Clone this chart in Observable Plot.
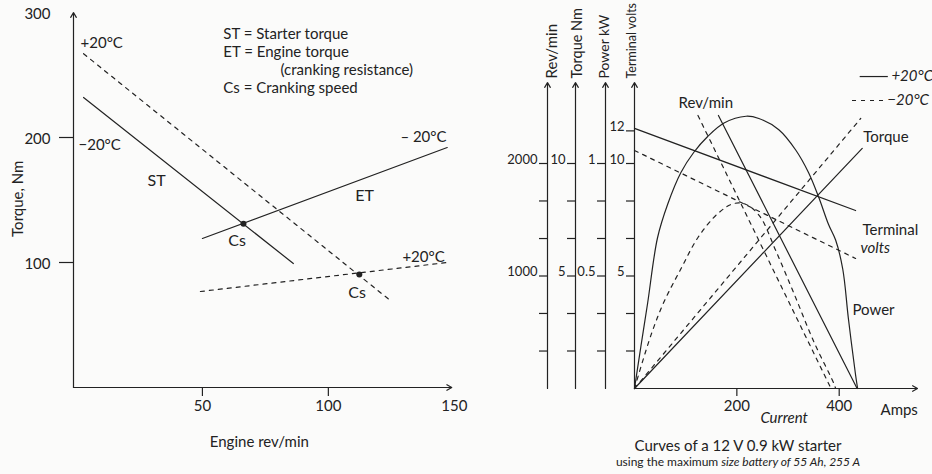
<!DOCTYPE html>
<html>
<head>
<meta charset="utf-8">
<script src="https://cdn.jsdelivr.net/npm/d3@7"></script>
<script src="https://cdn.jsdelivr.net/npm/@observablehq/plot@0.6"></script>
<style>
  html, body { margin: 0; padding: 0; background: #fbfbfa; }
  #wrap { position: relative; width: 932px; height: 474px; overflow: hidden; font-family: Lato, "Open Sans", sans-serif; color: #222; }
  #left { position: absolute; left: 0; top: 0; }
  #right { position: absolute; left: 470px; top: 0; }
  #cap { position: absolute; left: 588px; width: 300px; top: 437px; text-align: center; }
  #cap .l1 { font-size: 15px; line-height: 17px; }
  #cap .l2 { font-size: 12px; line-height: 15px; }
  svg { overflow: visible; }
</style>
</head>
<body>
<div id="wrap">
  <div id="left"></div>
  <div id="right"></div>
  <div id="cap"><div class="l1">Curves of a 12 V 0.9 kW starter</div><div class="l2">using the maximum <i>size battery of 55 Ah, 255 A</i></div></div>
</div>
<script>
// ================= LEFT CHART DATA (engine rev/min, torque Nm) =================
const starterTorqueCold = [{rev: 2.8, nm: 232}, {rev: 86.1, nm: 99.2}];     // ST at -20°C
const engineTorqueCold  = [{rev: 50.0, nm: 119.2}, {rev: 147.2, nm: 192}];  // ET at -20°C
const starterTorqueWarm = [{rev: 2.8, nm: 267}, {rev: 124.6, nm: 69.6}];    // ST at +20°C
const engineTorqueWarm  = [{rev: 49.2, nm: 76.8}, {rev: 147.2, nm: 100}];   // ET at +20°C
const crankingSpeed     = [{rev: 66.3, nm: 131}, {rev: 112.3, nm: 90.4}];   // Cs points
const leftYTicks  = [100, 200];
const leftYLabels = [100, 200, 300];
const leftXTicks  = [50, 100];
const leftXLabels = [50, 100, 150];

// ================= RIGHT CHART DATA (current in amps) =================
const revWarm    = [{amps: 164, rpm: 2427}, {amps: 435, rpm: 0}];
const revCold    = [{amps: 124, rpm: 2427}, {amps: 384, rpm: 0}];
const torqueWarm = [{amps: 0, nm: 0}, {amps: 445, nm: 10.67}];
const torqueCold = [{amps: 0, nm: 0}, {amps: 442, nm: 12.0}];
const voltsWarm  = [{amps: 0, v: 11.56}, {amps: 432, v: 7.91}];
const voltsCold  = [{amps: 0, v: 10.58}, {amps: 432, v: 5.78}];
const powerWarmAmps = [0, 12.7, 25.7, 45, 65, 90.7, 116, 143, 175, 218, 243, 282, 315, 340, 360, 379, 393, 407, 418, 432, 436];
const powerWarmKw   = [0, 0.19, 0.38, 0.67, 0.82, 0.96, 1.05, 1.12, 1.18, 1.21, 1.20, 1.15, 1.06, 0.96, 0.85, 0.73, 0.66, 0.53, 0.31, 0.06, 0];
const powerColdAmps = [0, 32, 57, 91, 124, 163, 194, 218, 245, 276, 312, 350, 390, 393];
const powerColdKw   = [0, 0.236, 0.382, 0.533, 0.671, 0.778, 0.822, 0.818, 0.765, 0.613, 0.42, 0.21, 0.02, 0];

// secondary scales (ticks and labels)
const revTicks    = [333, 667, 1000, 1333, 1667, 2000];
const revLabelAt  = [1000, 2000];
const revLabels   = ["1000", "2000"];
const torqueTicks = [1.667, 3.333, 5, 6.667, 8.333, 10];
const torqueLabelAt = [5, 10];
const torqueLabels  = ["5", "10"];
const powerTicks  = [0.1667, 0.3333, 0.5, 0.6667, 0.8333, 1];
const powerLabelAt = [0.5, 1];
const powerLabels  = ["0.5", "1"];
const voltTicks   = [1.667, 3.333, 5, 6.667, 8.333, 10, 11.45];
const voltLabelAt = [5, 10, 11.45];
const voltLabels  = ["5", "10", "12"];
const ampTicks    = [200, 400];

// unit conversions onto the common vertical scale (rev/min equivalents)
const perRpm = 1, perNm = 200, perKw = 2000, perVolt = 200;

const powerWarm = powerWarmAmps.map((a, i) => ({amps: a, kw: powerWarmKw[i]}));
const powerCold = powerColdAmps.map((a, i) => ({amps: a, kw: powerColdKw[i]}));

const ink = "#222";
const sw = 1.2;
const dash = "4,5";
const font = "Lato, 'Open Sans', sans-serif";

// ================= LEFT CHART =================
const LW = 470, LML = 76, LMR = 20;
const leftXDomain = [0, 148.5];
const leftK = (LW - LML - LMR) / (leftXDomain[1] - leftXDomain[0]); // px per x unit
const leftTickLen = 14 / leftK;

const leftPlot = Plot.plot({
  width: LW, height: 474,
  marginLeft: LML, marginRight: LMR, marginTop: 12, marginBottom: 87,
  x: {domain: leftXDomain, axis: null},
  y: {domain: [0, 300], axis: null},
  style: {background: "transparent", color: ink, fontFamily: font, overflow: "visible"},
  marks: [
    Plot.arrow([0], {x1: 0, y1: 0, x2: 0, y2: 300, dx: -3, stroke: ink, strokeWidth: sw, headLength: 7}),
    Plot.arrow([0], {x1: -1.2, y1: 0, x2: 149, y2: 0, stroke: ink, strokeWidth: sw, headLength: 7}),
    Plot.ruleY(leftYTicks, {y: d => d, x1: -leftTickLen, x2: 0, dx: -3, stroke: ink, strokeWidth: sw}),
    Plot.text(leftYLabels, {y: d => d, text: d => String(d), frameAnchor: "left", dx: -26, dy: 2, textAnchor: "end", fontSize: 15, fill: ink}),
    Plot.ruleX(leftXTicks, {x: d => d, y1: 0, y2: -7.2, stroke: ink, strokeWidth: sw}),
    Plot.text(leftXLabels, {x: d => d, text: d => String(d), frameAnchor: "bottom", dy: 23, fontSize: 15, fill: ink}),
    Plot.line(starterTorqueCold, {x: "rev", y: "nm", stroke: ink, strokeWidth: sw}),
    Plot.line(engineTorqueCold, {x: "rev", y: "nm", stroke: ink, strokeWidth: sw}),
    Plot.line(starterTorqueWarm, {x: "rev", y: "nm", stroke: ink, strokeWidth: sw, strokeDasharray: dash}),
    Plot.line(engineTorqueWarm, {x: "rev", y: "nm", stroke: ink, strokeWidth: sw, strokeDasharray: dash}),
    Plot.dot(crankingSpeed, {x: "rev", y: "nm", r: 3, fill: ink}),
    // annotations
    Plot.text(["+20°C"], {x: 1.6, y: 275.2, textAnchor: "start", fontSize: 15, fill: ink}),
    Plot.text(["−20°C"], {x: 0.8, y: 193.6, textAnchor: "start", fontSize: 15, fill: ink}),
    Plot.text(["ST"], {x: 28.2, y: 165.6, textAnchor: "start", fontSize: 16, fill: ink}),
    Plot.text(["ET"], {x: 110.7, y: 153.6, textAnchor: "start", fontSize: 16, fill: ink}),
    Plot.text(["Cs"], {x: 60.3, y: 117.6, textAnchor: "start", fontSize: 16, fill: ink}),
    Plot.text(["Cs"], {x: 107.9, y: 76, textAnchor: "start", fontSize: 16, fill: ink}),
    Plot.text(["– 20°C"], {x: 128.6, y: 200, textAnchor: "start", fontSize: 15, fill: ink}),
    Plot.text(["+20°C"], {x: 129.4, y: 104, textAnchor: "start", fontSize: 15, fill: ink}),
    Plot.text(["ST = Starter torque"], {x: 58.3, y: 282.4, textAnchor: "start", fontSize: 15, fill: ink}),
    Plot.text(["ET = Engine torque"], {x: 58.3, y: 268, textAnchor: "start", fontSize: 15, fill: ink}),
    Plot.text(["(cranking resistance)"], {x: 81, y: 253.6, textAnchor: "start", fontSize: 15, fill: ink}),
    Plot.text(["Cs = Cranking speed"], {x: 58.3, y: 239.2, textAnchor: "start", fontSize: 15, fill: ink}),
    Plot.text(["Torque, Nm"], {x: -23, y: 151, rotate: -90, fontSize: 15, fill: ink}),
    Plot.text(["Engine rev/min"], {x: 72.6, y: -44, fontSize: 15, fill: ink})
  ]
});
document.getElementById("left").append(leftPlot);

// ================= RIGHT CHART =================
const RW = 462, RML = 164, RMR = 15, RMT = 82, RMB = 86;
const rightXDomain = [0, 553];
const rightYDomain = [0, 2720];
const rightK = (RW - RML - RMR) / (rightXDomain[1] - rightXDomain[0]);   // px per amp
const rightKy = (474 - RMT - RMB) / (rightYDomain[1] - rightYDomain[0]); // px per unit
const rightTickLen = 8 / rightK;

const axes = [
  {off: -87, hdr: "Rev/min", hdrOff: -88, hdrSize: 15, ticks: revTicks.map(d => d * perRpm), at: revLabelAt.map(d => d * perRpm), labels: revLabels},
  {off: -59, hdr: "Torque Nm", hdrOff: -63, hdrSize: 14.5, ticks: torqueTicks.map(d => d * perNm), at: torqueLabelAt.map(d => d * perNm), labels: torqueLabels},
  {off: -29, hdr: "Power kW", hdrOff: -35, hdrSize: 14, ticks: powerTicks.map(d => d * perKw), at: powerLabelAt.map(d => d * perKw), labels: powerLabels},
  {off: 0, hdr: "Terminal volts", hdrOff: -7, hdrSize: 12.5, ticks: voltTicks.map(d => d * perVolt), at: voltLabelAt.map(d => d * perVolt), labels: voltLabels}
];

const axisMarks = axes.flatMap(a => [
  Plot.arrow([0], {x1: 0, y1: 0, x2: 0, y2: rightYDomain[1], dx: a.off, stroke: ink, strokeWidth: sw, headLength: 7}),
  Plot.ruleY(a.ticks, {y: d => d, x1: -rightTickLen, x2: 0, dx: a.off, stroke: ink, strokeWidth: sw}),
  Plot.text(a.at, {y: d => d, text: (d, i) => a.labels[i], frameAnchor: "left", dx: a.off - 10, dy: -4, textAnchor: "end", fontSize: 13, fill: ink}),
  Plot.text([a.hdr], {frameAnchor: "top-left", dx: a.hdrOff, dy: -4, rotate: -90, textAnchor: "start", fontSize: a.hdrSize, fill: ink})
]);

const rightPlot = Plot.plot({
  width: RW, height: 474,
  marginLeft: RML, marginRight: RMR, marginTop: RMT, marginBottom: RMB,
  x: {domain: rightXDomain, axis: null},
  y: {domain: rightYDomain, axis: null},
  style: {background: "transparent", color: ink, fontFamily: font, overflow: "visible"},
  marks: [
    ...axisMarks,
    Plot.arrow([0], {x1: 0, y1: 0, x2: 553, y2: 0, stroke: ink, strokeWidth: sw, headLength: 7}),
    Plot.ruleX(ampTicks, {x: d => d, y1: 0, y2: -8 / rightKy, stroke: ink, strokeWidth: sw}),
    Plot.text(ampTicks, {x: d => d, text: d => String(d), frameAnchor: "bottom", dy: 22, fontSize: 15, fill: ink}),
    // +20°C (solid)
    Plot.line(revWarm, {x: "amps", y: d => d.rpm * perRpm, stroke: ink, strokeWidth: sw}),
    Plot.line(torqueWarm, {x: "amps", y: d => d.nm * perNm, stroke: ink, strokeWidth: sw}),
    Plot.line(voltsWarm, {x: "amps", y: d => d.v * perVolt, stroke: ink, strokeWidth: sw}),
    Plot.line(powerWarm, {x: "amps", y: d => d.kw * perKw, stroke: ink, strokeWidth: sw, curve: "catmull-rom"}),
    // -20°C (dashed)
    Plot.line(revCold, {x: "amps", y: d => d.rpm * perRpm, stroke: ink, strokeWidth: sw, strokeDasharray: dash}),
    Plot.line(torqueCold, {x: "amps", y: d => d.nm * perNm, stroke: ink, strokeWidth: sw, strokeDasharray: dash}),
    Plot.line(voltsCold, {x: "amps", y: d => d.v * perVolt, stroke: ink, strokeWidth: sw, strokeDasharray: dash}),
    Plot.line(powerCold, {x: "amps", y: d => d.kw * perKw, stroke: ink, strokeWidth: sw, strokeDasharray: dash, curve: "catmull-rom"}),
    // legend
    Plot.ruleY([2773], {x1: 441, x2: 496, stroke: ink, strokeWidth: sw}),
    Plot.text(["+20°C"], {x: 502, y: 2773, textAnchor: "start", fontSize: 15, fontStyle: "italic", fill: ink}),
    Plot.ruleY([2560], {x1: 426, x2: 488, stroke: ink, strokeWidth: sw, strokeDasharray: dash}),
    Plot.text(["−20°C"], {x: 494, y: 2560, textAnchor: "start", fontSize: 15, fontStyle: "italic", fill: ink}),
    // curve labels
    Plot.text(["Rev/min"], {x: 86, y: 2533, textAnchor: "start", fontSize: 15, fill: ink}),
    Plot.text(["Torque"], {x: 447, y: 2231, textAnchor: "start", fontSize: 15, fill: ink}),
    Plot.text(["Terminal"], {x: 445.5, y: 1404, textAnchor: "start", fontSize: 15, fill: ink}),
    Plot.text(["volts"], {x: 441.6, y: 1244, textAnchor: "start", fontSize: 15, fontStyle: "italic", fill: ink}),
    Plot.text(["Power"], {x: 426, y: 693, textAnchor: "start", fontSize: 15, fill: ink}),
    Plot.text(["Amps"], {x: 480.7, y: -196, textAnchor: "start", fontSize: 15, fill: ink}),
    Plot.text(["Current"], {x: 246, y: -267, textAnchor: "start", fontSize: 15, fontStyle: "italic", fill: ink})
  ]
});
document.getElementById("right").append(rightPlot);
</script>
</body>
</html>
